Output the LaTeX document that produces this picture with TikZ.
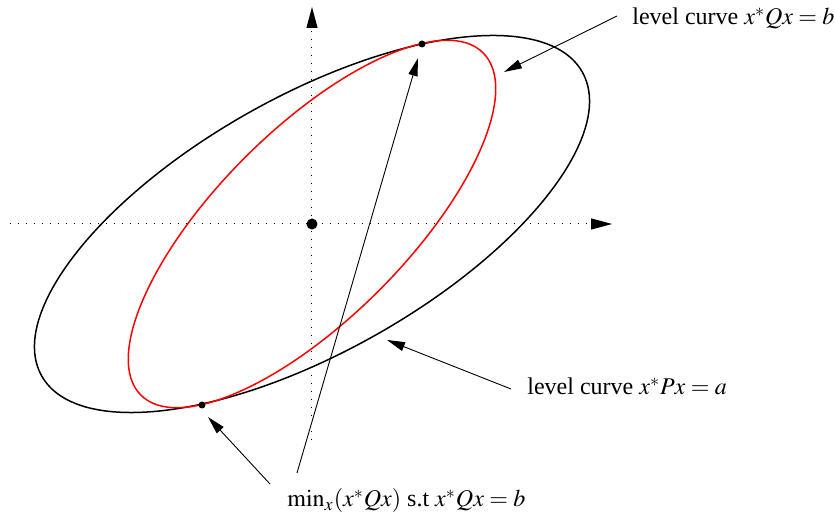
\documentclass[tikz,border=0pt]{standalone}
\usepackage{mathptmx}
\usepackage[no-math]{fontspec}
\setmainfont{Liberation Serif}
\usetikzlibrary{arrows.meta}
\begin{document}
\begin{tikzpicture}[x=0.5pt,y=0.5pt,
  axis/.style={line width=0.5pt,dash pattern=on 0.5pt off 3.5pt,-{Triangle[length=10.5pt,width=5.5pt]}},
  ann/.style={line width=0.45pt,-{Triangle[length=9pt,width=4.6pt]}},
  lbl/.style={anchor=base west,inner sep=0pt,font=\fontsize{12}{14}\selectfont},
  dot/.style={circle,fill=black,inner sep=0pt,minimum size=#1}]
\useasboundingbox (-312,-299) rectangle (523,224);
% axes
\coordinate (xs) at (-302,0);
\coordinate (xe) at (300,0);
\coordinate (ys) at (0,-216);
\coordinate (ye) at (0,217);
\draw[axis] (xs) -- (xe);
\draw[axis] (ys) -- (ye);
% ellipses
\draw[line width=0.75pt,rotate=29.34] (0,0) ellipse [x radius=155.05pt,y radius=64pt];
\draw[line width=0.75pt,red,rotate=45] (0,0) ellipse [x radius=121pt,y radius=47.2pt];
% dots
\node[dot=5.5pt] (o) at (0,0) {};
\node[dot=3.5pt] (t) at (110,180) {};
\node[dot=3.5pt] (b) at (-110,-181) {};
% labels
\node[lbl] (lq) at (320,199) {level curve $x^*Qx=b$};
\node[lbl] (lp) at (215,-171) {level curve $x^*Px=a$};
\node[lbl] (lm) at (-25,-283) {$\min_x(x^*Qx)$ s.t $x^*Qx=b$};
% arrow ends
\coordinate (s1) at (305,208);
\coordinate (e1) at (192,152);
\coordinate (s2) at (199,-165);
\coordinate (e2) at (75,-116);
\coordinate (s3) at (-42,-260);
\coordinate (e3) at (-104,-193);
\coordinate (s4) at (-15,-249);
\coordinate (e4) at (106,166);
\draw[ann] (s1) -- (e1);
\draw[ann] (s2) -- (e2);
\draw[ann] (s3) -- (e3);
\draw[ann] (s4) -- (e4);
\end{tikzpicture}
\end{document}
